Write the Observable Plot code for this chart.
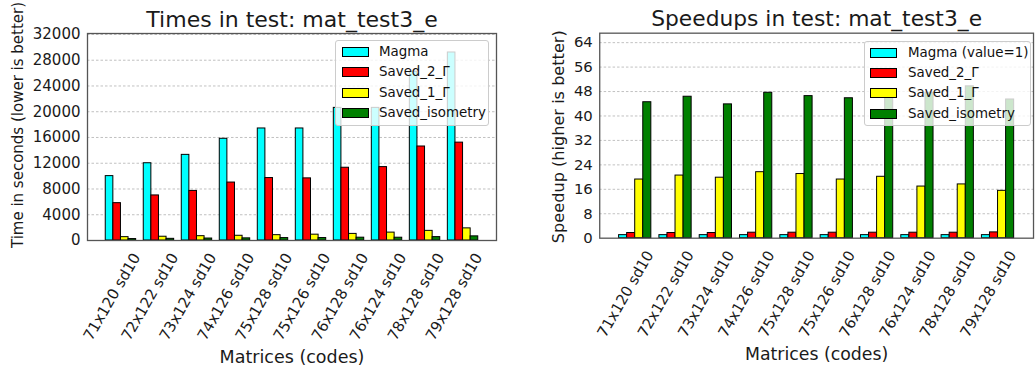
<!DOCTYPE html>
<html><head><meta charset="utf-8">
<script src="https://cdn.jsdelivr.net/npm/d3@7"></script>
<script src="https://cdn.jsdelivr.net/npm/@observablehq/plot@0.6"></script>
<style>
html,body{margin:0;padding:0;background:#fff;overflow:hidden;}
#wrap{position:relative;width:1035px;height:372px;overflow:hidden;font-family:"DejaVu Sans";}
.panel{position:absolute;top:0;}
.legend{position:absolute;background:rgba(255,255,255,0.8);border:1px solid #cccccc;border-radius:3px;box-sizing:border-box;font-family:"DejaVu Sans";font-size:13.4px;color:#111;}
.sw{position:absolute;width:27px;height:10px;border:1px solid #000;box-sizing:border-box;}
.lab{position:absolute;white-space:nowrap;line-height:1;transform:translateY(-50%);}
</style></head><body><div id="wrap"></div>
<script>
// ---------- data ----------
const categories = ["71x120 sd10","72x122 sd10","73x124 sd10","74x126 sd10","75x128 sd10","75x126 sd10","76x128 sd10","76x124 sd10","78x128 sd10","79x128 sd10"];
const seriesTimes = ["Magma","Saved_2_Γ","Saved_1_Γ","Saved_isometry"];
const seriesSpeed = ["Magma (value=1)","Saved_2_Γ","Saved_1_Γ","Saved_isometry"];
const colors = ["#00ffff","#ff0000","#ffff00","#008000"];

// Times in seconds
const timeMagma  = [10000, 12000, 13300, 15800, 17400, 17400, 20600, 20600, 26200, 29200];
const timeSaved2 = [5800, 7000, 7700, 9000, 9700, 9650, 11300, 11400, 14600, 15200];
const timeSaved1 = [520, 585, 672, 735, 829, 906, 1025, 1226, 1497, 1884];
const timeIso    = [225, 260, 306, 333, 376, 381, 438, 433, 527, 643];

// Speedups
const spMagma  = [1, 1, 1, 1, 1, 1, 1, 1, 1, 1];
const spSaved2 = [1.7, 1.7, 1.7, 1.8, 1.8, 1.8, 1.8, 1.8, 1.8, 1.9];
const spSaved1 = [19.2, 20.5, 19.8, 21.6, 21.0, 19.2, 20.1, 16.9, 17.6, 15.5];
const spIso    = [44.5, 46.3, 43.8, 47.6, 46.5, 45.8, 47.0, 47.6, 49.7, 45.4];

const yTicksTimes = [0, 4000, 8000, 12000, 16000, 20000, 24000, 28000, 32000];
const yTicksSpeed = [0, 8, 16, 24, 32, 40, 48, 56, 64];

// ---------- build ----------
function table(series, arrays) {
  const rows = [];
  arrays.forEach((arr, k) => arr.forEach((v, i) => rows.push({i, k, series: series[k], value: v})));
  return rows;
}
const W = 0.2;

function chart(o) {
  return Plot.plot({
    width: o.width, height: 372,
    marginLeft: o.ml, marginRight: o.mr, marginTop: 33, marginBottom: 132,
    x: {type: "linear", domain: [-0.58, 10.18], axis: null},
    y: {domain: [0, o.ymax], axis: null},
    color: {domain: o.series, range: colors},
    style: {fontFamily: "DejaVu Sans", color: "#1a1a1a", background: "transparent", overflow: "visible"},
    marks: [
      Plot.gridY(o.ticks.filter(t => t > 0), {stroke: "#b0b0b0", strokeOpacity: 1, strokeDasharray: "2.5,2", strokeWidth: 0.8}),
      Plot.rect(o.data, {
        x1: d => d.i + (d.k - 0.5) * W,
        x2: d => d.i + (d.k + 0.5) * W,
        y1: 0, y2: "value",
        fill: "series", stroke: "#000", strokeWidth: 1
      }),
      Plot.frame({stroke: "#555", strokeWidth: 1.3}),
      Plot.axisY(o.ticks, {label: null, tickSize: 0, tickPadding: 7, fontSize: 15, tickFormat: d => String(d)}),
      Plot.text(categories, {x: (d, i) => i, frameAnchor: "bottom", rotate: -60, textAnchor: "end", lineAnchor: "middle", dx: 27, dy: 14, fontSize: 15}),
      Plot.text([o.title], {frameAnchor: "top", textAnchor: "middle", lineAnchor: "middle", dy: -14, fontSize: 22}),
      Plot.text([o.ylabel], {frameAnchor: "left", rotate: -90, textAnchor: "middle", lineAnchor: "middle", dx: o.ylx, dy: o.yly, fontSize: o.ylfs}),
      Plot.text(["Matrices (codes)"], {frameAnchor: "bottom", textAnchor: "middle", lineAnchor: "middle", dy: 117, fontSize: 17.5})
    ]
  });
}

function legend(series, box) {
  const el = document.createElement("div");
  el.className = "legend";
  Object.assign(el.style, {left: box.left + "px", top: box.top + "px", width: box.width + "px", height: box.height + "px"});
  series.forEach((s, k) => {
    const cy = 11 + k * 20.4;
    const sw = document.createElement("div");
    sw.className = "sw";
    Object.assign(sw.style, {left: box.swx + "px", top: (cy - 5) + "px", background: colors[k]});
    const lab = document.createElement("div");
    lab.className = "lab";
    lab.textContent = s;
    Object.assign(lab.style, {left: box.tx + "px", top: cy + "px"});
    el.appendChild(sw); el.appendChild(lab);
  });
  return el;
}

const wrap = document.getElementById("wrap");

const left = chart({
  width: 520, ml: 87, mr: 24, ymax: 32150,
  series: seriesTimes, ticks: yTicksTimes,
  data: table(seriesTimes, [timeMagma, timeSaved2, timeSaved1, timeIso]),
  title: "Times in test: mat_test3_e",
  ylabel: "Time in seconds (lower is better)", ylx: -69.5, yly: -12, ylfs: 15
});
const p1 = document.createElement("div"); p1.className = "panel"; p1.style.left = "0px";
p1.appendChild(left); wrap.appendChild(p1);

const right = chart({
  width: 520, ml: 80, mr: 2, ymax: 67.1,
  series: seriesSpeed, ticks: yTicksSpeed,
  data: table(seriesSpeed, [spMagma, spSaved2, spSaved1, spIso]),
  title: "Speedups in test: mat_test3_e",
  ylabel: "Speedup (higher is better)", ylx: -41, yly: 1, ylfs: 16.3
});
const p2 = document.createElement("div"); p2.className = "panel"; p2.style.left = "520px";
p2.appendChild(right); wrap.appendChild(p2);

wrap.appendChild(legend(seriesTimes, {left: 335, top: 40, width: 154, height: 86, swx: 6, tx: 43}));
wrap.appendChild(legend(seriesSpeed, {left: 864, top: 40.5, width: 167, height: 85, swx: 5, tx: 43}));
</script></body></html>
